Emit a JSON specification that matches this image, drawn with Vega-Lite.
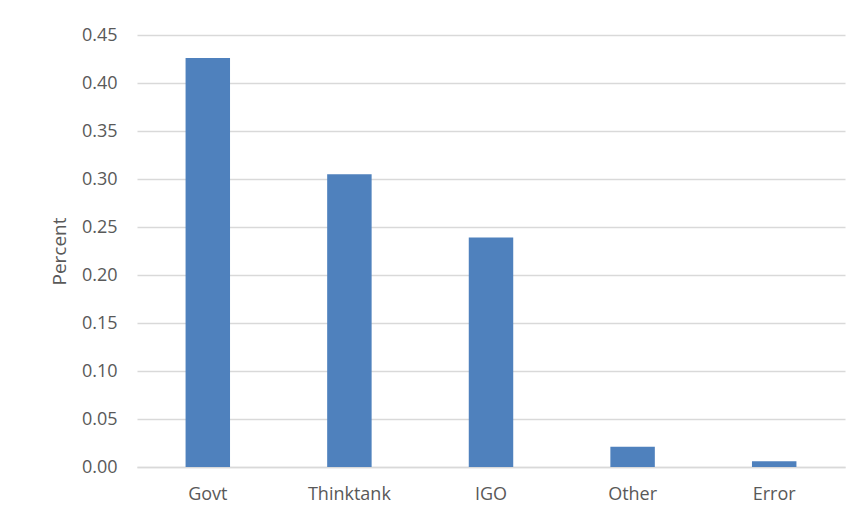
{
  "$schema": "https://vega.github.io/schema/vega-lite/v6.json",
  "autosize": "none",
  "padding": {"left": 137, "top": 35, "right": 15, "bottom": 54},
  "width": 708,
  "height": 432,
  "background": "white",
  "config": {
    "view": {"stroke": null},
    "font": "Open Sans"
  },
  "data": {
    "values": [
      {"source": "Govt", "percent": 0.426},
      {"source": "Thinktank", "percent": 0.305},
      {"source": "IGO", "percent": 0.239},
      {"source": "Other", "percent": 0.021},
      {"source": "Error", "percent": 0.006}
    ]
  },
  "mark": {"type": "bar", "color": "#4F81BD"},
  "encoding": {
    "x": {
      "field": "source",
      "type": "nominal",
      "sort": null,
      "scale": {"paddingInner": 0.686, "paddingOuter": 0.343},
      "axis": {
        "title": null,
        "labelAngle": 0,
        "labelFont": "Open Sans",
        "labelFontSize": 18,
        "labelColor": "#595959",
        "labelPadding": 18,
        "ticks": false,
        "domainColor": "#D9D9D9",
        "domainWidth": 1.5
      }
    },
    "y": {
      "field": "percent",
      "type": "quantitative",
      "scale": {"domain": [0, 0.45], "nice": false},
      "axis": {
        "title": "Percent",
        "titleFont": "Open Sans",
        "titleFontSize": 19,
        "titleFontWeight": "normal",
        "titleColor": "#595959",
        "titlePadding": 12,
        "values": [0, 0.05, 0.1, 0.15, 0.2, 0.25, 0.3, 0.35, 0.4, 0.45],
        "format": ".2f",
        "labelFont": "Open Sans",
        "labelFontSize": 18,
        "labelColor": "#595959",
        "labelPadding": 20,
        "ticks": false,
        "domain": false,
        "gridColor": "#D9D9D9",
        "gridWidth": 1.5
      }
    }
  }
}
